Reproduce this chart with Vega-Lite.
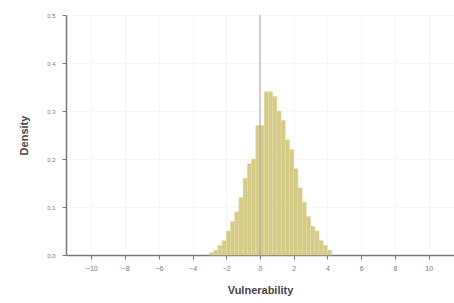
{
  "$schema": "https://vega.github.io/schema/vega-lite/v6.json",
  "width": 388,
  "height": 240,
  "autosize": "none",
  "padding": {"left": 66, "top": 15, "right": 0, "bottom": 48},
  "background": "white",
  "config": {"view": {"stroke": null}, "font": "Liberation Sans",
    "axisX": {"values": [-10, -8, -6, -4, -2, 0, 2, 4, 6, 8, 10], "title": "Vulnerability",
            "labelOverlap": false, "labelFlush": false,
            "grid": true, "gridColor": "#eeeeee", "gridWidth": 0.6,
            "domainColor": "#777777", "domainWidth": 1.5, "tickColor": "#777777", "tickSize": 4,
            "labelFontSize": 7, "labelColor": "#777777", "labelPadding": 5,
            "titleFontSize": 11, "titleColor": "#444444", "titlePadding": 13, "titleFontWeight": "bold"}},
  "data": {"values": [
    {"x0": -3.0, "x1": -2.75, "d": 0.005},
    {"x0": -2.75, "x1": -2.5, "d": 0.01},
    {"x0": -2.5, "x1": -2.25, "d": 0.02},
    {"x0": -2.25, "x1": -2.0, "d": 0.03},
    {"x0": -2.0, "x1": -1.75, "d": 0.05},
    {"x0": -1.75, "x1": -1.5, "d": 0.07},
    {"x0": -1.5, "x1": -1.25, "d": 0.09},
    {"x0": -1.25, "x1": -1.0, "d": 0.12},
    {"x0": -1.0, "x1": -0.75, "d": 0.16},
    {"x0": -0.75, "x1": -0.5, "d": 0.19},
    {"x0": -0.5, "x1": -0.25, "d": 0.20},
    {"x0": -0.25, "x1": 0.0, "d": 0.27},
    {"x0": 0.0, "x1": 0.25, "d": 0.27},
    {"x0": 0.25, "x1": 0.5, "d": 0.34},
    {"x0": 0.5, "x1": 0.75, "d": 0.34},
    {"x0": 0.75, "x1": 1.0, "d": 0.33},
    {"x0": 1.0, "x1": 1.25, "d": 0.30},
    {"x0": 1.25, "x1": 1.5, "d": 0.28},
    {"x0": 1.5, "x1": 1.75, "d": 0.24},
    {"x0": 1.75, "x1": 2.0, "d": 0.22},
    {"x0": 2.0, "x1": 2.25, "d": 0.18},
    {"x0": 2.25, "x1": 2.5, "d": 0.14},
    {"x0": 2.5, "x1": 2.75, "d": 0.11},
    {"x0": 2.75, "x1": 3.0, "d": 0.08},
    {"x0": 3.0, "x1": 3.25, "d": 0.06},
    {"x0": 3.25, "x1": 3.5, "d": 0.05},
    {"x0": 3.5, "x1": 3.75, "d": 0.03},
    {"x0": 3.75, "x1": 4.0, "d": 0.02},
    {"x0": 4.0, "x1": 4.25, "d": 0.01}
  ]},
  "layer": [
    {
      "mark": {"type": "bar", "color": "#d5cb86", "stroke": "#e2d9a4", "strokeWidth": 0.5},
      "encoding": {
        "x": {"field": "x0", "type": "quantitative", "title": "Vulnerability",
          "scale": {"domain": [-11.5, 11.5], "nice": false, "zero": false}},
        "x2": {"field": "x1"},
        "y": {"field": "d", "type": "quantitative",
          "scale": {"domain": [0, 0.5], "nice": false},
          "axis": {"values": [0, 0.1, 0.2, 0.3, 0.4, 0.5], "format": ".1f", "title": "Density",
            "labelOverlap": false, "labelFlush": false,
            "grid": true, "gridColor": "#f2f2f2", "gridWidth": 0.6,
            "domainColor": "#777777", "domainWidth": 1.5, "tickColor": "#777777", "tickSize": 4,
            "labelFontSize": 6, "labelColor": "#777777", "labelPadding": 7,
            "titleFontSize": 11, "titleColor": "#444444", "titlePadding": 17, "titleFontWeight": "bold"}},
        "y2": {"datum": 0}
      }
    },
    {
      "data": {"values": [{"v": 0}]},
      "mark": {"type": "rule", "color": "#a0a0a0", "strokeWidth": 1},
      "encoding": {"x": {"field": "v", "type": "quantitative", "title": "Vulnerability"}}
    }
  ]
}
